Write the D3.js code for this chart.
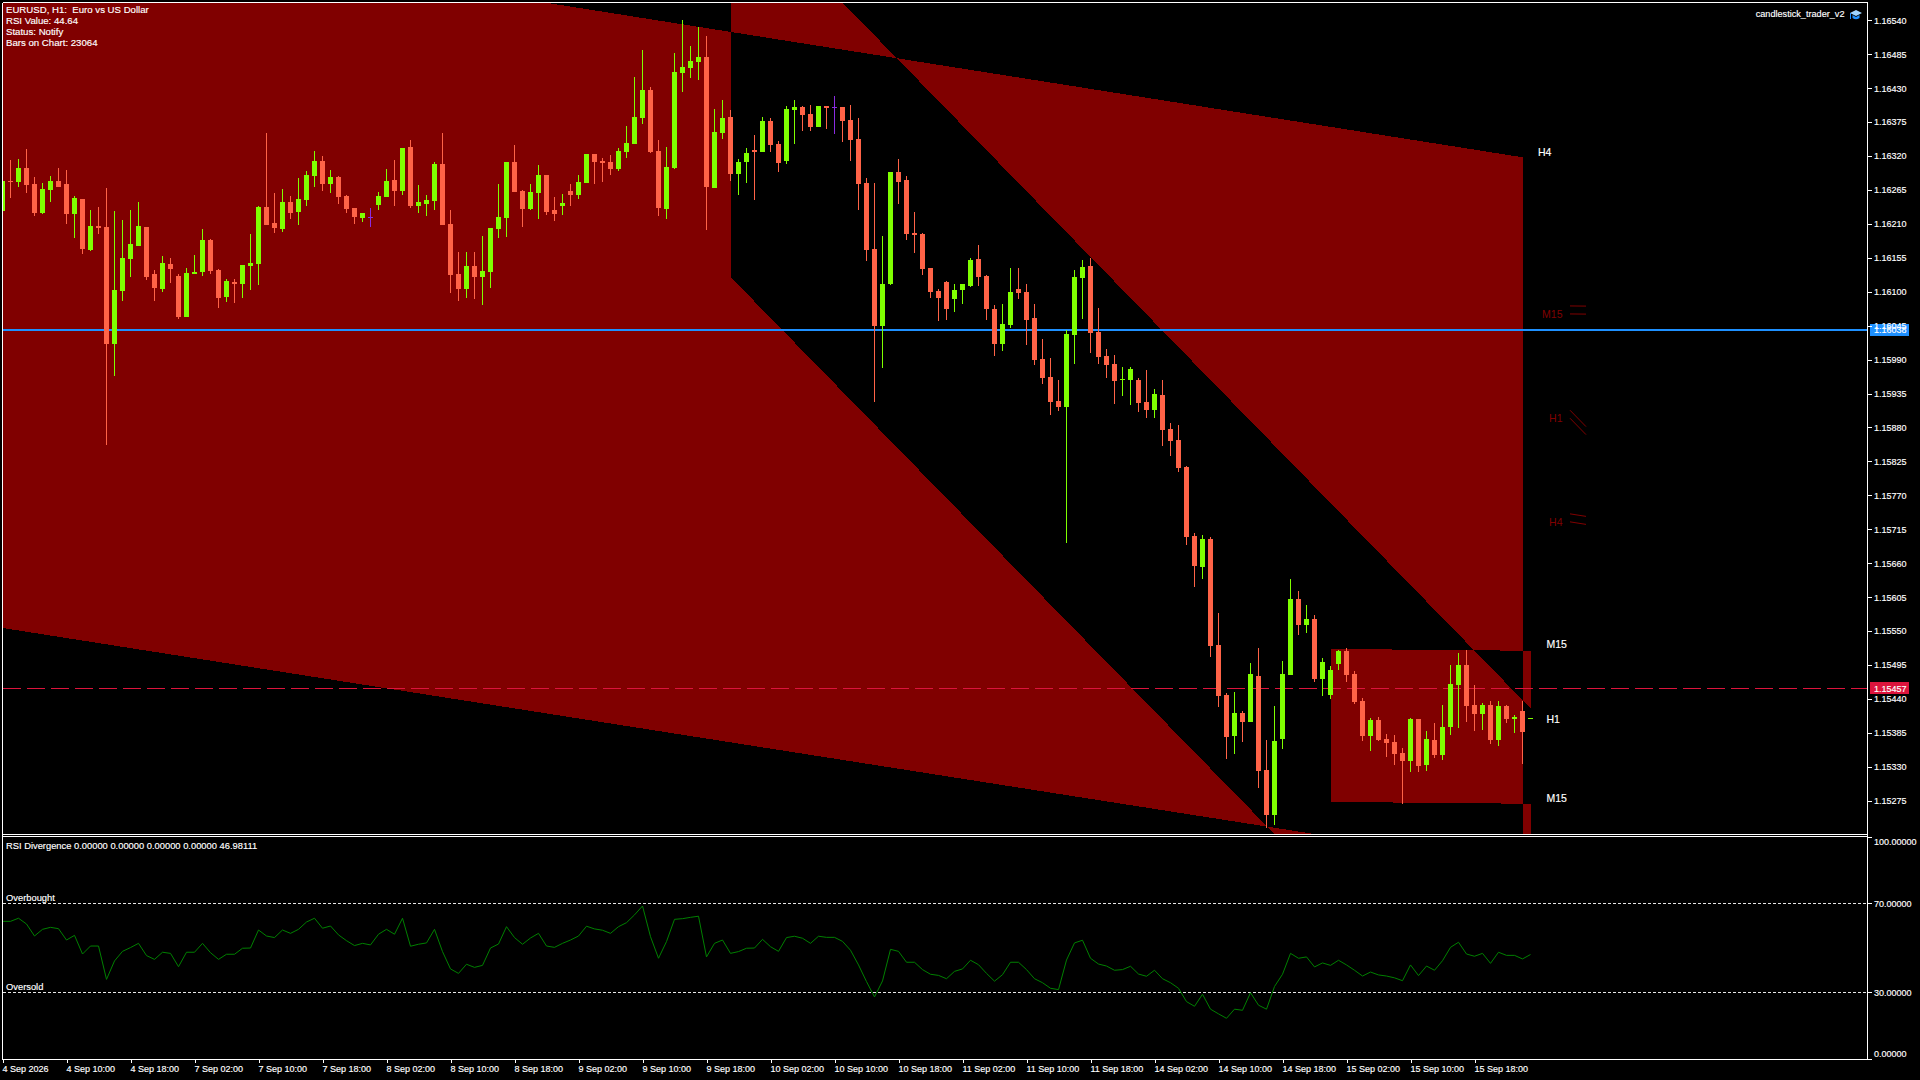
<!DOCTYPE html>
<html><head><meta charset="utf-8">
<script src="https://cdn.jsdelivr.net/npm/d3@7/dist/d3.min.js"></script>
<style>
html,body{margin:0;padding:0;background:#000;overflow:hidden}
svg{display:block}
text{font-family:"Liberation Sans",Arial,sans-serif;font-size:9px;fill:#fff;stroke:#fff;stroke-width:.15px;letter-spacing:0}
.wide{font-size:9.35px}
.info{font-size:9.65px}
.ea{font-size:9.15px}
</style></head><body>
<script>
const opens=[116231,116279,116278,116301,116275,116228,116265,116280,116275,116226,
116250,116168,116207,116205,116015,116101,116153,116174,116205,116129,
116105,116145,116126,116059,116129,116132,116184,116135,116092,116116,
116113,116142,116145,116237,116212,116202,116246,116229,116249,116288,
116312,116275,116286,116255,116236,116220,116221,116241,116254,116281,
116263,116335,116239,116242,116247,116307,116210,116129,116105,116142,
116124,116132,116202,116220,116310,116263,116234,116260,116289,116233,
116239,116263,116257,116276,116323,116312,116310,116299,116327,116340,
116382,116427,116328,116234,116301,116455,116463,116473,116481,116268,
116357,116383,116291,116310,116330,116327,116377,116340,116312,116395,
116400,116388,116367,116401,116399,116400,116378,116348,116276,116169,
116045,116113,116294,116281,116195,116194,116139,116101,116116,116088,
116103,116109,116153,116126,116072,116015,116046,116105,116100,116058,
115991,115962,115923,115913,116030,116122,116142,116035,115996,115983,
115957,115957,115957,115921,115908,115933,115878,115860,115816,115704,
115654,115699,115528,115446,115380,115417,115403,115477,115325,115252,
115375,115479,115602,115560,115570,115472,115446,115497,115518,115481,
115437,115380,115406,115375,115370,115352,115340,115408,115333,115374,
115349,115395,115463,115495,115430,115416,115430,115374,115429,115408,
115421,115407];
const highs=[116280,116314,116315,116331,116286,116276,116288,116301,116297,116255,
116250,116233,116237,116268,116231,116216,116233,116246,116205,116135,
116158,116155,116129,116139,116160,116202,116186,116137,116121,116121,
116143,116194,116239,116357,116260,116267,116255,116284,116296,116328,
116320,116297,116288,116257,116236,116228,116236,116262,116299,116314,
116333,116346,116273,116257,116310,116357,116233,116165,116165,116165,
116190,116203,116275,116310,116338,116265,116275,116306,116289,116254,
116259,116275,116289,116323,116323,116317,116322,116333,116369,116448,
116492,116432,116346,116335,116487,116541,116498,116529,116515,116396,
116411,116395,116315,116333,116354,116383,116382,116344,116401,116411,
116401,116403,116401,116401,116417,116400,116403,116382,116284,116276,
116190,116294,116315,116288,116229,116195,116139,116105,116118,116113,
116113,116155,116176,116127,116079,116080,116139,116139,116113,116080,
116024,115993,115957,116038,116135,116152,116155,116074,116007,115998,
115978,115978,115960,115973,115942,115957,115887,115884,115818,115709,
115706,115703,115579,115450,115451,115421,115498,115523,115374,115429,
115502,115635,115615,115592,115576,115506,115493,115519,115523,115485,
115442,115409,115411,115383,115382,115361,115409,115408,115388,115401,
115430,115495,115515,115519,115463,115434,115437,115437,115430,115414,
115437,115409];
const lows=[116231,116252,116270,116260,116223,116226,116246,116270,116210,116187,
116161,116166,116194,115851,115964,116085,116124,116174,116119,116085,
116100,116114,116056,116059,116129,116126,116129,116074,116083,116082,
116090,116103,116111,116208,116195,116197,116218,116208,116239,116270,
116263,116260,116242,116228,116210,116213,116205,116233,116254,116239,
116257,116236,116228,116223,116233,116208,116098,116085,116090,116088,
116079,116106,116187,116189,116262,116205,116233,116218,116224,116215,
116224,116239,116250,116276,116275,116278,116289,116296,116317,116340,
116372,116325,116223,116218,116299,116424,116447,116443,116200,116268,
116348,116280,116257,116276,116249,116327,116327,116294,116307,116340,
116361,116361,116367,116364,116356,116343,116312,116233,116150,115922,
115977,116111,116242,116184,116163,116127,116090,116053,116054,116067,
116080,116108,116109,116054,115996,116004,116041,116088,116014,115981,
115951,115900,115907,115693,115983,116056,116001,115983,115960,115918,
115931,115917,115905,115895,115895,115850,115834,115808,115690,115622,
115635,115508,115427,115343,115351,115370,115403,115296,115231,115236,
115359,115479,115544,115547,115468,115445,115440,115487,115468,115432,
115372,115356,115372,115346,115333,115270,115322,115322,115323,115344,
115341,115382,115393,115403,115388,115390,115367,115364,115401,115385,
115335,115407];
const closes=[116280,116278,116301,116273,116228,116267,116280,116270,116226,116252,
116169,116207,116203,116015,116103,116155,116177,116207,116124,116106,
116147,116137,116059,116131,116132,116184,116134,116090,116118,116113,
116143,116147,116237,116208,116203,116246,116228,116250,116289,116312,
116275,116286,116254,116234,116221,116228,116221,116255,116280,116263,
116333,116239,116246,116249,116307,116208,116127,116105,116142,116124,
116134,116203,116221,116310,116262,116234,116262,116289,116229,116226,
116244,116257,116278,116323,116310,116309,116299,116328,116341,116383,
116427,116327,116236,116302,116456,116464,116474,116481,116270,116359,
116382,116291,116310,116325,116327,116377,116338,116309,116396,116400,
116387,116367,116401,116398,116399,116377,116346,116275,116168,116045,
116113,116294,116278,116194,116192,116137,116100,116090,116072,116103,
116113,116152,116124,116072,116015,116048,116100,116098,116054,115990,
115960,115921,115913,116032,116124,116140,116033,115994,115981,115955,
115959,115975,115920,115908,115934,115876,115858,115814,115703,115656,
115699,115526,115445,115378,115417,115403,115481,115323,115252,115372,
115481,115602,115560,115570,115472,115500,115487,115518,115479,115435,
115380,115406,115374,115369,115351,115340,115408,115331,115375,115349,
115395,115464,115495,115429,115416,115430,115374,115429,115408,115411,
115387,115409];
const rsi=[61.9,61.9,63.3,60.7,55.3,58.3,59.2,58.6,53.5,55.6,
47.2,50.8,50.8,35.8,44.1,48.4,50.1,52.0,46.5,44.8,
48.0,47.5,41.5,48.0,48.0,52.0,47.8,44.8,47.1,47.1,
49.8,49.9,58.0,55.3,54.6,58.0,56.5,58.3,61.6,63.3,
58.8,59.8,55.8,53.2,51.0,52.0,51.3,56.1,58.3,56.1,
63.3,50.7,51.6,52.2,58.3,48.3,40.5,38.5,42.6,41.2,
42.1,49.9,51.7,59.5,54.6,51.6,54.4,56.5,50.8,50.2,
52.0,53.5,55.3,59.7,58.5,57.9,56.5,59.5,61.3,64.8,
68.8,55.0,45.3,52.8,62.8,63.1,63.7,64.2,45.9,52.0,
53.5,47.5,48.3,49.8,49.9,53.8,50.5,48.4,54.6,55.2,
54.3,52.0,55.2,54.7,54.7,52.9,48.9,42.3,34.8,27.9,
35.1,49.3,48.4,43.5,43.5,40.2,38.1,37.6,36.1,39.4,
40.5,44.4,42.4,38.5,35.0,37.9,43.5,43.5,40.2,36.1,
34.3,31.8,31.2,44.5,52.2,53.4,45.3,42.7,41.8,39.9,
40.2,41.7,38.2,37.2,39.9,36.1,34.3,31.8,25.8,23.7,
29.1,22.4,20.3,18.3,22.4,21.9,29.8,24.2,22.4,32.6,
38.1,47.5,45.3,45.9,41.4,43.2,42.1,44.4,42.3,39.9,
37.3,39.1,37.8,37.3,36.5,35.2,42.3,37.5,41.8,39.9,
44.2,50.2,52.5,47.2,46.2,47.5,43.0,48.0,46.6,46.6,45.0,46.98];
const priceTicks=[116540,116485,116430,116375,116320,116265,116210,116155,116100,116045,115990,115935,115880,115825,115770,115715,115660,115605,115550,115495,115440,115385,115330,115275];
const dateLabels=["4 Sep 2026","4 Sep 10:00","4 Sep 18:00","7 Sep 02:00","7 Sep 10:00","7 Sep 18:00","8 Sep 02:00","8 Sep 10:00","8 Sep 18:00","9 Sep 02:00","9 Sep 10:00","9 Sep 18:00","10 Sep 02:00","10 Sep 10:00","10 Sep 18:00","11 Sep 02:00","11 Sep 10:00","11 Sep 18:00","14 Sep 02:00","14 Sep 10:00","14 Sep 18:00","15 Sep 02:00","15 Sep 10:00","15 Sep 18:00"];
const infoLines=["EURUSD, H1:  Euro vs US Dollar","RSI Value: 44.64","Status: Notify","Bars on Chart: 23064"];
const rsiLevels=[70,30];
const rsiTicks=[100,70,30,0];
// channel corners as [bar index, price in points]
const channelH4=[[-1,116710],[190,116318],[190,115168],[-1,115557]];
const channelH1=[[91,116755],[191,115425],[191,114796],[91,116124]];
const channelM15=[[166,115521],[191,115518],[191,115270],[166,115273]];
const bidPrice=116038, askPrice=115457;
const channelLabels=[["H4",116326],["M15",115529],["H1",115407],["M15",115279]];
const ghostLabels=[["M15",116064,channelM15],["H1",115895,channelH1],["H4",115727,channelH4]];

const W=1920,H=1080,axisX=1868;
const x=d3.scaleLinear().domain([0,191]).range([2.5,1530.5]);
const y=d3.scaleLinear().domain([116540,115275]).range([20.3,800.7]);
const yr=d3.scaleLinear().domain([0,100]).range([1059,836.6]);
const BULL="#7fff00",BEAR="#ff6347",DOJI="#8a2be2",CH="#800000";

const svg=d3.select("body").append("svg").attr("width",W).attr("height",H).style("background","#000");
const defs=svg.append("defs");
defs.append("clipPath").attr("id","main").append("rect").attr("x",3).attr("y",3).attr("width",axisX-3).attr("height",831);
defs.append("clipPath").attr("id","sub").append("rect").attr("x",3).attr("y",837).attr("width",axisX-3).attr("height",222);

const g=svg.append("g").attr("clip-path","url(#main)");
const poly=c=>"M"+c.map(p=>x(p[0])+","+y(p[1])).join("L")+"Z";
g.append("path").attr("d",[channelH4,channelH1,channelM15].map(poly).join(""))
 .attr("fill",CH).attr("fill-rule","evenodd").attr("shape-rendering","crispEdges");

// price lines
g.append("line").attr("x1",3).attr("x2",axisX).attr("y1",Math.round(y(bidPrice))).attr("y2",Math.round(y(bidPrice)))
 .attr("stroke","#1e90ff").attr("stroke-width",2).attr("shape-rendering","crispEdges");
g.append("line").attr("x1",2.5).attr("x2",axisX).attr("y1",Math.floor(y(askPrice))+.5).attr("y2",Math.floor(y(askPrice))+.5)
 .attr("stroke","#dc143c").attr("stroke-width",1).attr("stroke-dasharray","18,6").attr("shape-rendering","crispEdges");

// candles
const colorOf=i=>opens[i]===closes[i]?DOJI:(closes[i]>opens[i]?BULL:BEAR);
const bars=d3.range(opens.length);
const cg=g.append("g").attr("shape-rendering","crispEdges");
cg.selectAll("rect.w").data(bars).join("rect").attr("class","w")
 .attr("x",i=>x(i)-.5).attr("width",1)
 .attr("y",i=>Math.round(y(highs[i])))
 .attr("height",i=>Math.max(1,Math.round(y(lows[i]))-Math.round(y(highs[i]))))
 .attr("fill",colorOf);
cg.selectAll("rect.b").data(bars).join("rect").attr("class","b")
 .attr("x",i=>x(i)-2.5).attr("width",5)
 .attr("y",i=>Math.round(y(Math.max(opens[i],closes[i]))))
 .attr("height",i=>Math.max(1,Math.round(y(Math.min(opens[i],closes[i])))-Math.round(y(Math.max(opens[i],closes[i])))))
 .attr("fill",colorOf);

// channel labels
g.selectAll("text.cl").data(channelLabels).join("text").attr("class","cl")
 .attr("x",d=>d[0]==="H4"?1538:1546.5).attr("y",d=>y(d[1])).attr("dy","0.36em")
 .style("font-size","10.5px").text(d=>d[0]);
const ghost=g.selectAll("g.gh").data(ghostLabels).join("g").attr("class","gh");
ghost.append("text").attr("x",1562.5).attr("y",d=>y(d[1])).attr("dy","0.36em").attr("text-anchor","end")
 .style("font-size","10.5px").style("fill",CH).style("stroke","none").text(d=>d[0]);
[-8,0].forEach(off=>{
  ghost.append("line").attr("stroke",CH).attr("stroke-width",1)
   .attr("x1",1570).attr("x2",1586)
   .attr("y1",d=>y(d[1])+off)
   .attr("y2",d=>{const c=d[2];const s=(y(c[1][1])-y(c[0][1]))/(x(c[1][0])-x(c[0][0]));return y(d[1])+off+16*s;});
});

// info text
svg.selectAll("text.info").data(infoLines).join("text").attr("class","info")
 .attr("x",6).attr("y",(d,i)=>10+11*i).attr("dy","0.36em").style("white-space","pre").text(d=>d);
svg.append("text").attr("class","ea").attr("x",1844.5).attr("y",13.5).attr("dy","0.36em").attr("text-anchor","end").text("candlestick_trader_v2");
// EA icon
const icon=svg.append("g").attr("transform","translate(1849,8)");
icon.append("path").attr("d","M1,5 L7,2 L13,5 L7,8Z").attr("fill","#9fd4ff");
icon.append("path").attr("d","M3.5,7 L3.5,10 Q7,12.5 10.5,10 L10.5,7 L7,9Z").attr("fill","#1e90ff");
icon.append("rect").attr("x",1).attr("y",5).attr("width",1).attr("height",6).attr("fill","#1e90ff");

// RSI panel
const sg=svg.append("g").attr("clip-path","url(#sub)");
sg.selectAll("line.lv").data(rsiLevels).join("line").attr("class","lv")
 .attr("x1",3).attr("x2",axisX).attr("y1",d=>Math.floor(yr(d))+.5).attr("y2",d=>Math.floor(yr(d))+.5)
 .attr("stroke","#e6e6e6").attr("stroke-width",1).attr("stroke-dasharray","3,2").attr("shape-rendering","crispEdges");
sg.append("path").attr("d",d3.line().x((d,i)=>x(i)).y(d=>yr(d))(rsi))
 .attr("fill","none").attr("stroke","#008000").attr("stroke-width",1);
svg.append("text").attr("class","wide").attr("x",6).attr("y",845.7).attr("dy","0.36em").text("RSI Divergence 0.00000 0.00000 0.00000 0.00000 46.98111");
svg.append("text").attr("class","wide").attr("x",6).attr("y",897.7).attr("dy","0.36em").text("Overbought");
svg.append("text").attr("class","wide").attr("x",6).attr("y",986.7).attr("dy","0.36em").text("Oversold");

// borders
const border=[[2.5,2.5,1867.5,2.5],[2.5,2.5,2.5,1059.5],[1867.5,2.5,1867.5,1059.5],[2.5,834.5,1867.5,834.5],[2.5,836.5,1867.5,836.5],[2.5,1059.5,1867.5,1059.5]];
svg.selectAll("line.bd").data(border).join("line").attr("class","bd")
 .attr("x1",d=>d[0]).attr("y1",d=>d[1]).attr("x2",d=>d[2]).attr("y2",d=>d[3])
 .attr("stroke","#fff").attr("stroke-width",1).attr("shape-rendering","crispEdges");

// boxes behind price labels
const box=(p,col)=>svg.append("rect").attr("x",1870).attr("width",39).attr("y",Math.round(y(p))-6).attr("height",12).attr("fill",col);
box(bidPrice,"#1e90ff"); box(askPrice,"#dc143c");

const styleAxis=a=>{a.select(".domain").remove();a.selectAll("line").attr("stroke","#fff").attr("shape-rendering","crispEdges");a.selectAll("text").attr("fill","#fff");};
const ax=svg.append("g").attr("transform",`translate(${axisX},0)`)
 .call(d3.axisRight(y).tickValues(priceTicks).tickSize(4).tickPadding(2).tickFormat(v=>(v/1e5).toFixed(5)));
styleAxis(ax);
const axr=svg.append("g").attr("transform",`translate(${axisX},0)`)
 .call(d3.axisRight(yr).tickValues(rsiTicks).tickSize(4).tickPadding(2).tickFormat(v=>v.toFixed(5)));
styleAxis(axr);
axr.selectAll("text").attr("dy",v=>v===100?"0.85em":(v===0?"-0.3em":"0.32em"));
const axb=svg.append("g").attr("transform","translate(0,1059)")
 .call(d3.axisBottom(x).tickValues(d3.range(0,192,8)).tickSize(4).tickPadding(3).tickFormat(v=>dateLabels[v/8]));
styleAxis(axb);
axb.selectAll("text").attr("text-anchor","start").attr("dx","-0.5");

[bidPrice,askPrice].forEach(p=>{
  svg.append("text").attr("x",1874).attr("y",y(p)).attr("dy","0.36em").text((p/1e5).toFixed(5));
});
</script>
</body></html>
